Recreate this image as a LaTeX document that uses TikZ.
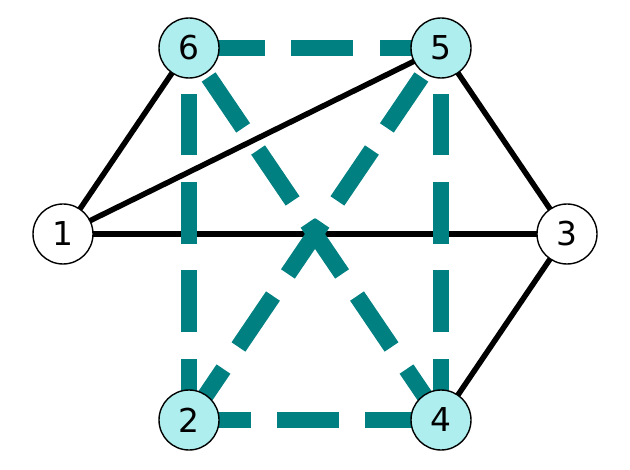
\documentclass[tikz,border=0pt]{standalone}
\usepackage{fontspec}
\setmainfont{DejaVu Sans}
\usetikzlibrary{backgrounds}
\definecolor{nodefill}{RGB}{175,238,238}
\definecolor{pathteal}{RGB}{0,128,128}
\begin{document}
\begin{tikzpicture}[
          x=1bp, y=-1bp,
          vertex/.style={circle, draw=black, line width=1.4bp, minimum size=60bp, inner sep=0pt, font=\fontsize{33}{40}\selectfont},
          edge/.style={draw=black, line width=5.5bp},
          tour/.style={draw=pathteal, line width=16.7bp, dash pattern=on 61.5bp off 26.7bp}
        ]
          \useasboundingbox (0, 0) rectangle (630, 470);

          \node (v1) at (63, 234)   [vertex, fill=white]    {1};
          \node (v2) at (189, 420)  [vertex, fill=nodefill] {2};
          \node (v3) at (567, 234)  [vertex, fill=white]    {3};
          \node (v4) at (441, 420)  [vertex, fill=nodefill] {4};
          \node (v5) at (441, 48)   [vertex, fill=nodefill] {5};
          \node (v6) at (189, 48)   [vertex, fill=nodefill] {6};

          \begin{scope}[on background layer]
            \draw [edge] (v1.center) -- (v6.center);
            \draw [edge] (v1.center) -- (v5.center);
            \draw [edge] (v1.center) -- (v3.center);
            \draw [edge] (v3.center) -- (v5.center);
            \draw [edge] (v3.center) -- (v4.center);

            \draw [tour] (v5.center) -- (v6.center);
            \draw [tour] (v2.center) -- (v4.center);
            \draw [tour] (v2.center) -- (v6.center);
            \draw [tour] (v4.center) -- (v5.center);
            \draw [tour] (v4.center) -- (v6.center);
            \draw [tour] (v2.center) -- (v5.center);
          \end{scope}
        \end{tikzpicture}
\end{document}
